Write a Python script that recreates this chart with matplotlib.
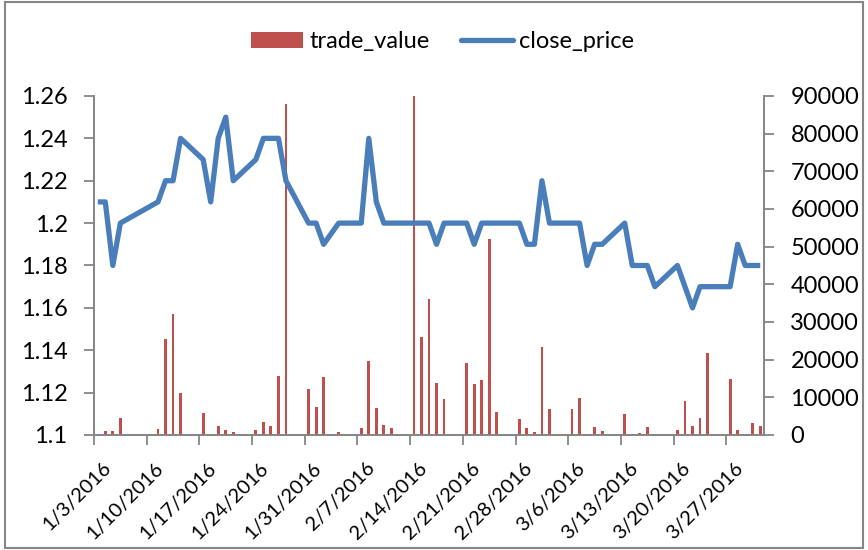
import datetime as dt
import matplotlib
matplotlib.use("Agg")
import matplotlib.pyplot as plt
import matplotlib.dates as mdates
import matplotlib.transforms as mtransforms
from matplotlib.patches import Patch, Rectangle
from matplotlib.lines import Line2D
from matplotlib.ticker import FuncFormatter, MultipleLocator

plt.rcParams['font.family'] = ['Lato', 'DejaVu Sans']

# data
dates = ["1/3", "1/4", "1/5", "1/6", "1/11", "1/12", "1/13", "1/14", "1/17", "1/18",
         "1/19", "1/20", "1/21", "1/24", "1/25", "1/26", "1/27", "1/28", "1/31", "2/1",
         "2/2", "2/4", "2/7", "2/8", "2/9", "2/10", "2/11", "2/14", "2/15", "2/16",
         "2/17", "2/18", "2/21", "2/22", "2/23", "2/24", "2/25", "2/28", "2/29", "3/1",
         "3/2", "3/3", "3/6", "3/7", "3/8", "3/9", "3/10", "3/13", "3/14", "3/15",
         "3/16", "3/17", "3/20", "3/21", "3/22", "3/23", "3/24", "3/27", "3/28", "3/29",
         "3/30", "3/31"]
close_price = [1.21, 1.21, 1.18, 1.20, 1.21, 1.22, 1.22, 1.24, 1.23, 1.21,
               1.24, 1.25, 1.22, 1.23, 1.24, 1.24, 1.24, 1.22, 1.20, 1.20,
               1.19, 1.20, 1.20, 1.24, 1.21, 1.20, 1.20, 1.20, 1.20, 1.20,
               1.19, 1.20, 1.20, 1.19, 1.20, 1.20, 1.20, 1.20, 1.19, 1.19,
               1.22, 1.20, 1.20, 1.20, 1.18, 1.19, 1.19, 1.20, 1.18, 1.18,
               1.18, 1.17, 1.18, 1.17, 1.16, 1.17, 1.17, 1.17, 1.19, 1.18,
               1.18, 1.18]
trade_value = [0, 1000, 1000, 4600, 1700, 25600, 32000, 11100, 5800, 0,
               2400, 1300, 900, 1300, 3400, 2400, 15700, 87800, 12100, 7300,
               15400, 700, 1900, 19700, 7100, 2600, 1900, 90000, 26100, 36000,
               13700, 9600, 19000, 13500, 14700, 52000, 6000, 4200, 1800, 900,
               23400, 6800, 6800, 9700, 0, 2200, 1100, 5700, 0, 600,
               2100, 300, 1300, 9000, 2500, 4400, 21700, 14800, 1300, 0,
               3300, 2400]

GRAY = "#868686"
RED = "#C0504D"
BLUE = "#4A7EBB"

days = [dt.datetime.strptime(d + "/2016", "%m/%d/%Y") + dt.timedelta(hours=12) for d in dates]

fig = plt.figure(figsize=(8.68, 5.5), dpi=100)
ax = fig.add_axes([0.1083, 0.2091, 0.7719, 0.6164])

# bars on right axis, line on left axis (drawn on top)
ax.bar(days, trade_value, width=0.38, color=RED, zorder=2)
ax.set_ylim(0, 90000)
ax.yaxis.set_major_locator(MultipleLocator(10000))

ax2 = ax.twinx()
ax2.plot(days, close_price, color=BLUE, lw=3.8, solid_joinstyle='round', solid_capstyle='butt')
ax2.set_ylim(1.1, 1.26)
ax2.yaxis.set_major_locator(MultipleLocator(0.02))
ax2.yaxis.set_major_formatter(FuncFormatter(lambda v, p: f"{v:.2f}".rstrip('0').rstrip('.')))

ax.set_xlim(dt.datetime(2016, 1, 3), dt.datetime(2016, 4, 1))
ax.set_xticks([dt.datetime(2016, 1, 3) + dt.timedelta(days=7 * k) for k in range(13)])
ax.xaxis.set_major_formatter(FuncFormatter(lambda v, p: "{0.month}/{0.day}/{0.year}".format(mdates.num2date(v))))

for a in (ax, ax2):
    for s in a.spines.values():
        s.set_color(GRAY)
        s.set_linewidth(1.3)
    a.spines['top'].set_visible(False)
    a.tick_params(colors=GRAY, width=1.3, length=7, labelcolor='black')

ax.tick_params(axis='y', labelsize=17, pad=12, right=True, left=False, labelright=True, labelleft=False)
ax2.tick_params(axis='y', labelsize=17, pad=12, left=True, right=False, labelleft=True, labelright=False)
ax.tick_params(axis='x', labelsize=14.5, pad=4)
shift = mtransforms.ScaledTranslation(8 / 100, -9 / 100, fig.dpi_scale_trans)
for lab in ax.get_xticklabels():
    lab.set_rotation(45)
    lab.set_ha('right')
    lab.set_va('top')
    lab.set_rotation_mode('anchor')
    lab.set_transform(lab.get_transform() + shift)

handles = [Patch(facecolor=RED, edgecolor='none'), Line2D([], [], color=BLUE, lw=3.8, solid_capstyle='round')]
fig.legend(handles, ["trade_value", "close_price"], loc='center', bbox_to_anchor=(0.51, 0.924),
           ncol=2, frameon=False, fontsize=17, handlelength=2.2, handletextpad=0.25,
           columnspacing=1.35, handleheight=0.65)

fig.patches.append(Rectangle((5 / 868, 2 / 550), 858 / 868, 546 / 550, transform=fig.transFigure,
                             fill=False, edgecolor=GRAY, lw=1.5))

fig.savefig("out.png", dpi=100)
